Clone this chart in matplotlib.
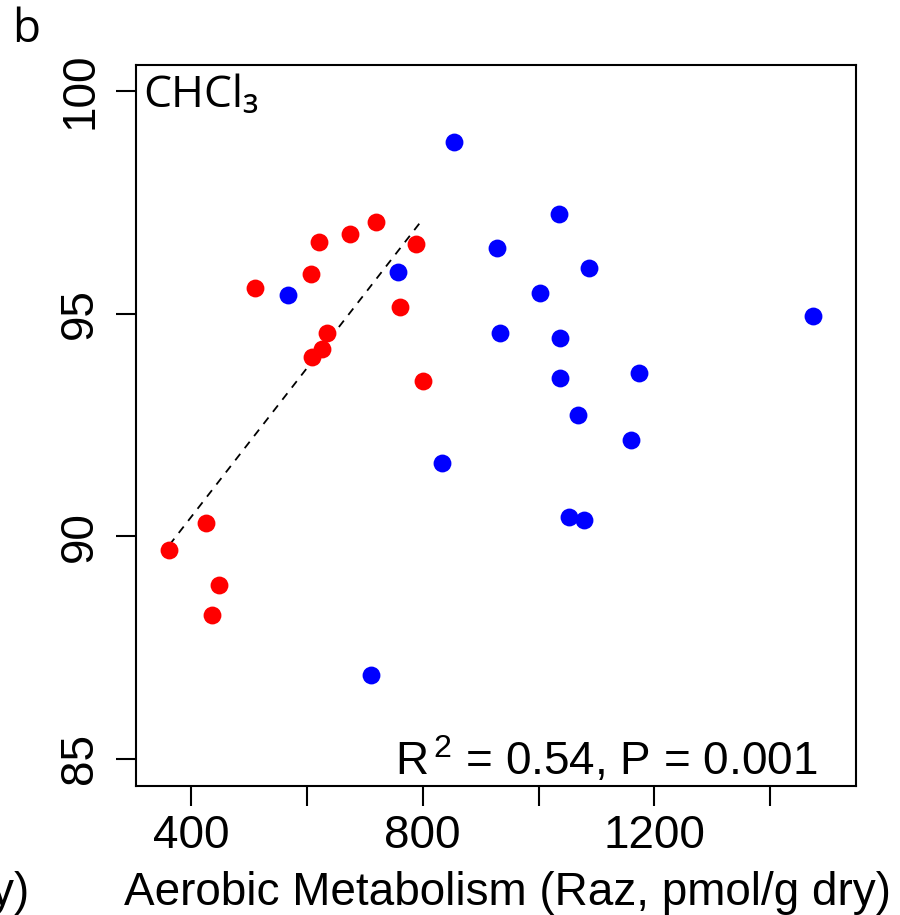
import numpy as np
import matplotlib
matplotlib.use("Agg")
import matplotlib.pyplot as plt

plt.rcParams.update({
    "font.family": ["Liberation Sans", "DejaVu Sans"],
    "font.size": 33,
    "axes.linewidth": 1.5,
    "mathtext.fontset": "custom",
    "mathtext.rm": "Liberation Sans",
})

# red group (fitted)
red_x = [510.5, 607.1, 620.4, 674.5, 718.8, 787.9, 760.8, 634.3, 626.6, 609.4,
         800.0, 426.4, 362.5, 448.3, 436.8]
red_y = [95.57, 95.88, 96.60, 96.79, 97.05, 96.56, 95.14, 94.57, 94.21, 94.03,
         93.49, 90.29, 89.69, 88.90, 88.23]

# blue group
blue_x = [568.0, 757.8, 710.2, 1035.2, 928.2, 1087.0, 1003.0, 932.9, 1037.0,
          1036.5, 1172.8, 1067.5, 1159.5, 1052.0, 1077.9, 1474.2, 854.5, 833.8]
blue_y = [95.41, 95.94, 86.88, 97.24, 96.47, 96.02, 95.45, 94.57, 94.46,
          93.56, 93.67, 92.72, 92.16, 90.43, 90.37, 94.95, 98.85, 91.65]

x_ticks = [400, 600, 800, 1000, 1200, 1400]
x_tick_labels = ["400", "", "800", "", "1200", ""]
y_ticks = [85, 90, 95, 100]

fig = plt.figure(figsize=(9, 9.15), dpi=100)
ax = fig.add_axes([0.1511, 0.1413, 0.80, 0.7877])

ax.scatter(red_x, red_y, s=165, color="#FF0000", linewidths=0, zorder=3)
ax.scatter(blue_x, blue_y, s=165, color="#0000FF", linewidths=0, zorder=3)

# linear fit on the red points
slope, icpt = np.polyfit(red_x, red_y, 1)
xx = np.array([min(red_x), max(red_x)])
ax.plot(xx, slope * xx + icpt, color="black", lw=1.3, ls=(0, (4.5, 4)), zorder=2)

ax.set_xlim(305, 1548)
ax.set_ylim(84.4, 100.58)

ax.set_xticks(x_ticks)
ax.set_xticklabels(x_tick_labels)
ax.set_yticks(y_ticks)
ax.set_yticklabels([str(v) for v in y_ticks], rotation=90, va="center")
ax.tick_params(axis="both", length=14.4, width=1.5, direction="out")
ax.tick_params(axis="x", pad=6)
ax.tick_params(axis="y", pad=10)

ax.text(143 / 900, 1 - 107 / 915, "CHCl\u2083", transform=fig.transFigure,
        fontsize=32, family=["Open Sans", "DejaVu Sans"], va="baseline", ha="left")
ax.text(817 / 900, 1 - 775 / 915, r"R$^{\,2}$ = 0.54, P = 0.001",
        transform=fig.transFigure, ha="right", va="baseline")

fig.text(507 / 900, 1 - 905 / 915, "Aerobic Metabolism (Raz, pmol/g dry)",
         ha="center", va="baseline")
# tail of the neighbouring panel's label
fig.text(29 / 900, 1 - 905 / 915, "pmol/g dry)", ha="right", va="baseline")
fig.text(12 / 900, 1 - 42 / 915, "b", fontsize=33,
         family=["Open Sans", "DejaVu Sans"], ha="left", va="baseline")

fig.savefig("out.png", dpi=100)
